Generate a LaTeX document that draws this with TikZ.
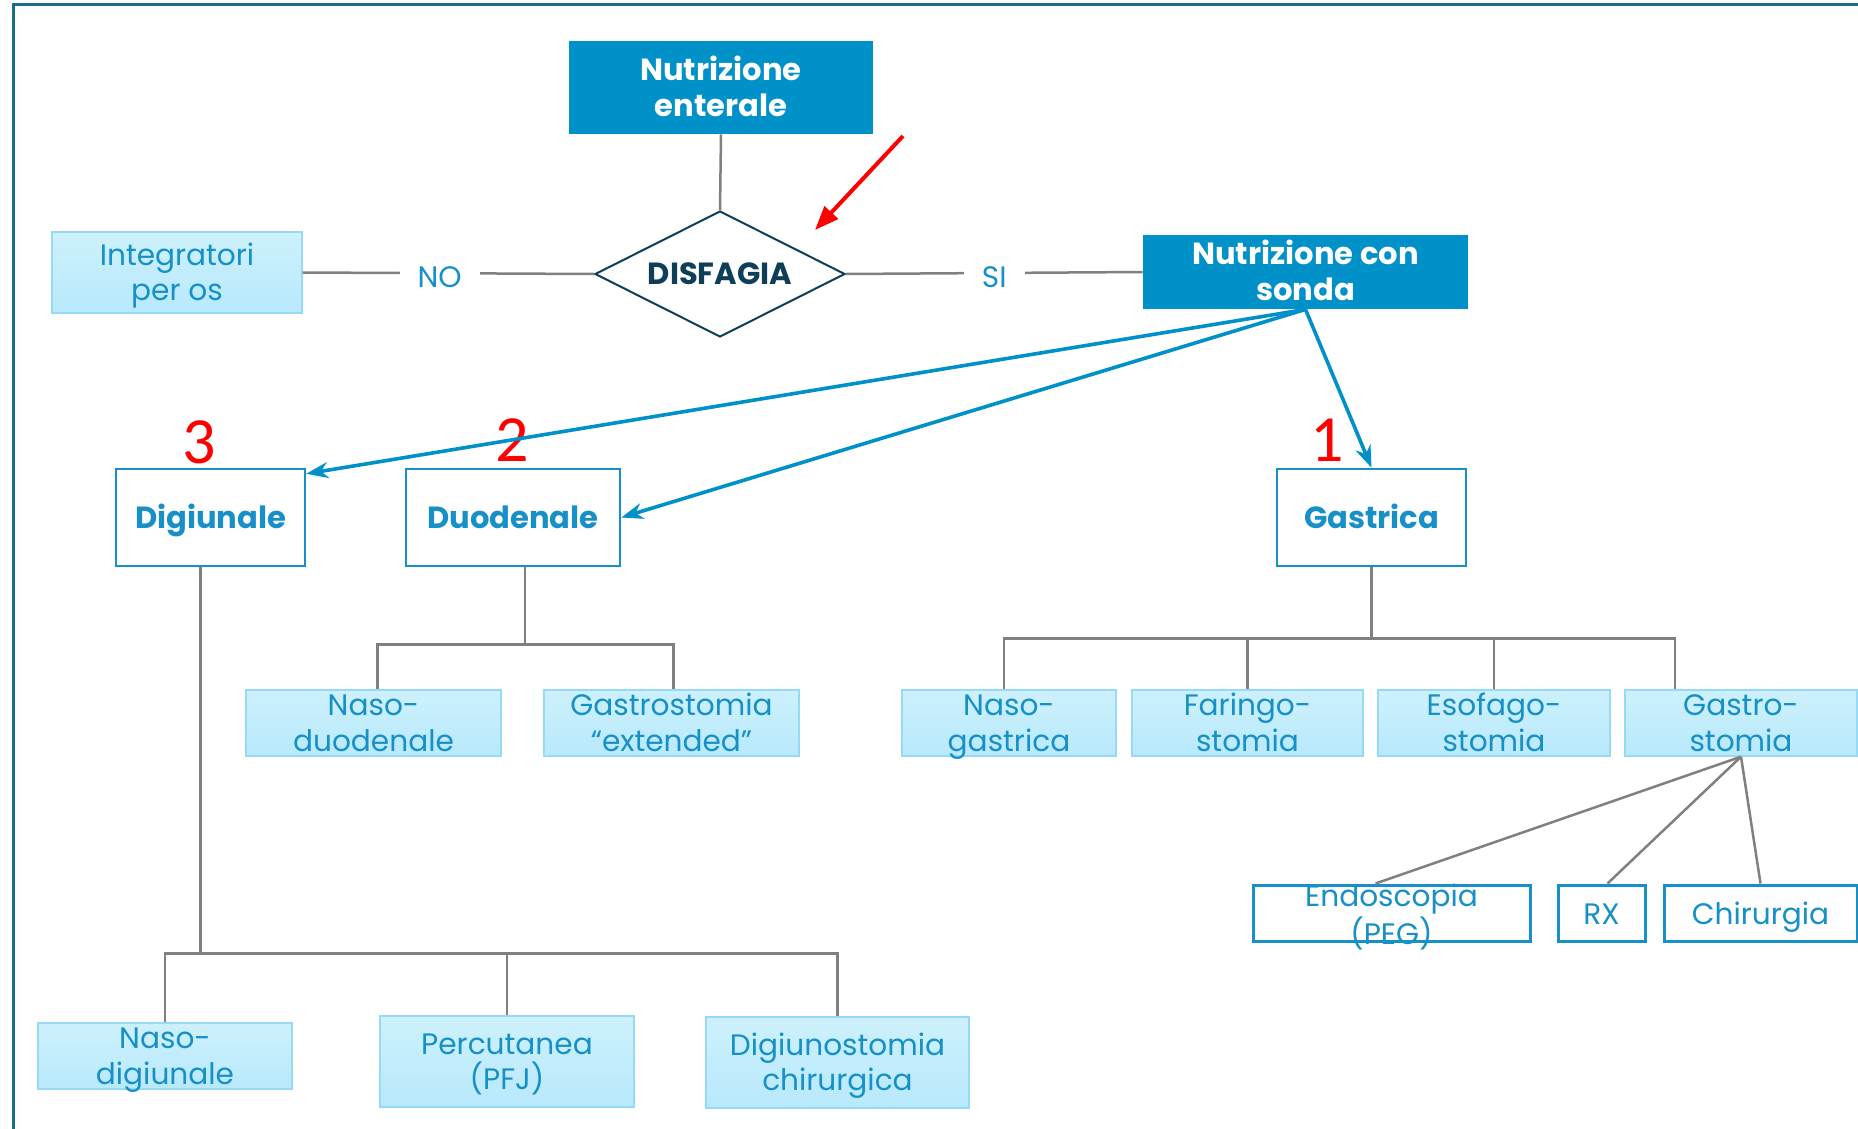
\documentclass[tikz,border=0pt]{standalone}
\usepackage{fontspec}
\setmainfont{Poppins}
\newfontfamily\numfont{Carlito}
\usetikzlibrary{arrows.meta,shapes.geometric}

\definecolor{sondablue}{RGB}{0,145,200}
\definecolor{textblue}{RGB}{22,144,199}
\definecolor{paletop}{RGB}{205,241,252}
\definecolor{palebottom}{RGB}{184,233,252}
\definecolor{paleedge}{RGB}{150,218,245}
\definecolor{darkteal}{RGB}{14,62,88}
\definecolor{framecol}{RGB}{24,108,140}
\definecolor{linkgray}{RGB}{128,128,128}

\tikzset{
  headbox/.style={fill=sondablue, text=white, font=\fontsize{15.3}{18}\selectfont\bfseries, align=center, inner sep=0pt, text height=32.6pt, text depth=4pt},
  tubebox/.style={draw=textblue, line width=1.25pt, text=textblue, font=\fontsize{15.3}{18}\selectfont\bfseries, minimum width=94.5pt, minimum height=48.5pt, inner sep=0pt, text height=14.7pt, text depth=4pt},
  optbox/.style={draw=paleedge, line width=0.7pt, top color=paletop, bottom color=palebottom, text=textblue, font=\fontsize{14.8}{17.85}\selectfont, align=center, minimum height=33pt, inner sep=0pt, text height=29.2pt, text depth=1pt},
  waybox/.style={draw=textblue, line width=1.5pt, fill=white, text=textblue, font=\fontsize{14.8}{17.2}\selectfont, minimum height=28pt, inner sep=0pt, text height=15.5pt, text depth=4pt},
  waytext/.style={text=textblue, font=\fontsize{14.8}{17.2}\selectfont, align=center, text height=33.3pt, text depth=2pt},
  link/.style={draw=linkgray, line width=1.25pt},
  feed/.style={draw=sondablue, line width=1.8pt, -{Stealth[length=11pt,width=8pt]}},
  answer/.style={fill=white, text=textblue, font=\fontsize{14.8}{17}\selectfont, inner xsep=9pt, inner ysep=2pt, yshift=-2pt},
  rank/.style={text=red, font=\numfont\fontsize{33}{36}\selectfont, inner sep=0pt}
}

\begin{document}
\begin{tikzpicture}[x=0.5pt,y=-0.5pt]
    \useasboundingbox (0,0) rectangle (1858,1129);

    % Frame
    \draw[framecol, line width=1.5pt] (13,1129) -- (13,5) -- (1858,5);

    % Top of the chart and the question
    \node[headbox, minimum width=152pt, minimum height=46.5pt] (enterale) at (721,87.5) {Nutrizione\\enterale};
    \node[diamond, aspect=2, draw=darkteal, line width=1pt, text=darkteal, font=\fontsize{15.3}{18}\selectfont\bfseries, minimum width=125pt, minimum height=63pt, inner sep=0pt] (disfagia) at (720,274) {DISFAGIA};
    \node[optbox, minimum width=125pt, minimum height=40.5pt] (integratori) at (177,272.5) {Integratori\\per os};
    \node[headbox, minimum width=162.5pt, minimum height=37pt] (sonda) at (1305.5,272) {Nutrizione con\\sonda};

    \draw[link] (enterale.south) -- (disfagia.north);
    \draw[link] (integratori.east) -- node[answer, pos=0.47] (no) {NO} (disfagia.west);
    \draw[link] (disfagia.east) -- node[answer] (si) {SI} (sonda.west);

    % Red pointer
    \coordinate (redtail) at (903,136);
    \coordinate (redtip) at (815,230);
    \draw[red, line width=2pt, -{Triangle[length=12pt,width=9pt]}] (redtail) -- (redtip);

    % Tube types
    \node[tubebox] (digiunale) at (210.5,517.5) {Digiunale};
    \node[tubebox, minimum width=107pt] (duodenale) at (513,517.5) {Duodenale};
    \node[tubebox] (gastrica) at (1371.5,517.5) {Gastrica};

    \node[rank] (num3) at (199,442) {3};
    \node[rank] (num2) at (512,440) {2};
    \node[rank] (num1) at (1327,440) {1};

    \draw[feed] (sonda.south) -- ([yshift=-3pt]digiunale.north east);
    \draw[feed] (sonda.south) -- (duodenale.east);
    \draw[feed] (sonda.south) -- (gastrica.north);

    % Duodenale branch
    \node[optbox, minimum width=127.5pt] (nasoduod) at (373.5,723) {Naso-\\duodenale};
    \node[optbox, minimum width=127.5pt] (gastroext) at (671.5,723) {Gastrostomia\\“extended”};

    \draw[link] ([xshift=6pt]duodenale.south) -- ++(0,77) coordinate (dbar);
    \draw[link] ([xshift=2pt]nasoduod.north) |- (dbar) -| ([xshift=1pt]gastroext.north);

    % Gastrica branch
    \node[optbox, minimum width=107pt] (nasogast) at (1009,723) {Naso-\\gastrica};
    \node[optbox, minimum width=115.5pt] (faringo) at (1247.5,723) {Faringo-\\stomia};
    \node[optbox, minimum width=116pt] (esofago) at (1494,723) {Esofago-\\stomia};
    \node[optbox, minimum width=116pt] (gastrost) at (1741,723) {Gastro-\\stomia};

    \draw[link] (gastrica.south) -- ++(0,71) coordinate (gbar);
    \draw[link] ([xshift=-2.5pt]nasogast.north) |- (gbar) -| ([xshift=-33pt]gastrost.north);
    \draw[link] (faringo.north) -- (faringo.north |- gbar);
    \draw[link] (esofago.north) -- (esofago.north |- gbar);

    % Gastrostomia ways
    \node[waybox, minimum width=138.5pt, label={[waytext]center:Endoscopia\\(PEG)}] (endo) at (1391.5,913) {};
    \node[waybox, minimum width=43.5pt] (rx) at (1601.5,913) {RX};
    \node[waybox, minimum width=96.5pt] (chir) at (1760.5,913) {Chirurgia};

    \draw[link] (gastrost.south) -- ([xshift=-8pt]endo.north);
    \draw[link] (gastrost.south) -- ([xshift=3pt]rx.north);
    \draw[link] (gastrost.south) -- (chir.north);

    % Digiunale branch
    \node[optbox, minimum width=127pt] (nasodig) at (165,1056) {Naso-\\digiunale};
    \node[optbox, minimum width=127pt, minimum height=45.5pt] (percut) at (507,1061.5) {Percutanea\\(PFJ)};
    \node[optbox, minimum width=131.5pt, minimum height=45.5pt] (digstom) at (837.5,1062.5) {Digiunostomia\\chirurgica};

    \draw[link] ([xshift=-5pt]digiunale.south) -- ++(0,386) coordinate (jbar);
    \draw[link] (nasodig.north) |- (jbar) -| (digstom.north);
    \draw[link] (percut.north) -- (percut.north |- jbar);

\end{tikzpicture}
\end{document}
